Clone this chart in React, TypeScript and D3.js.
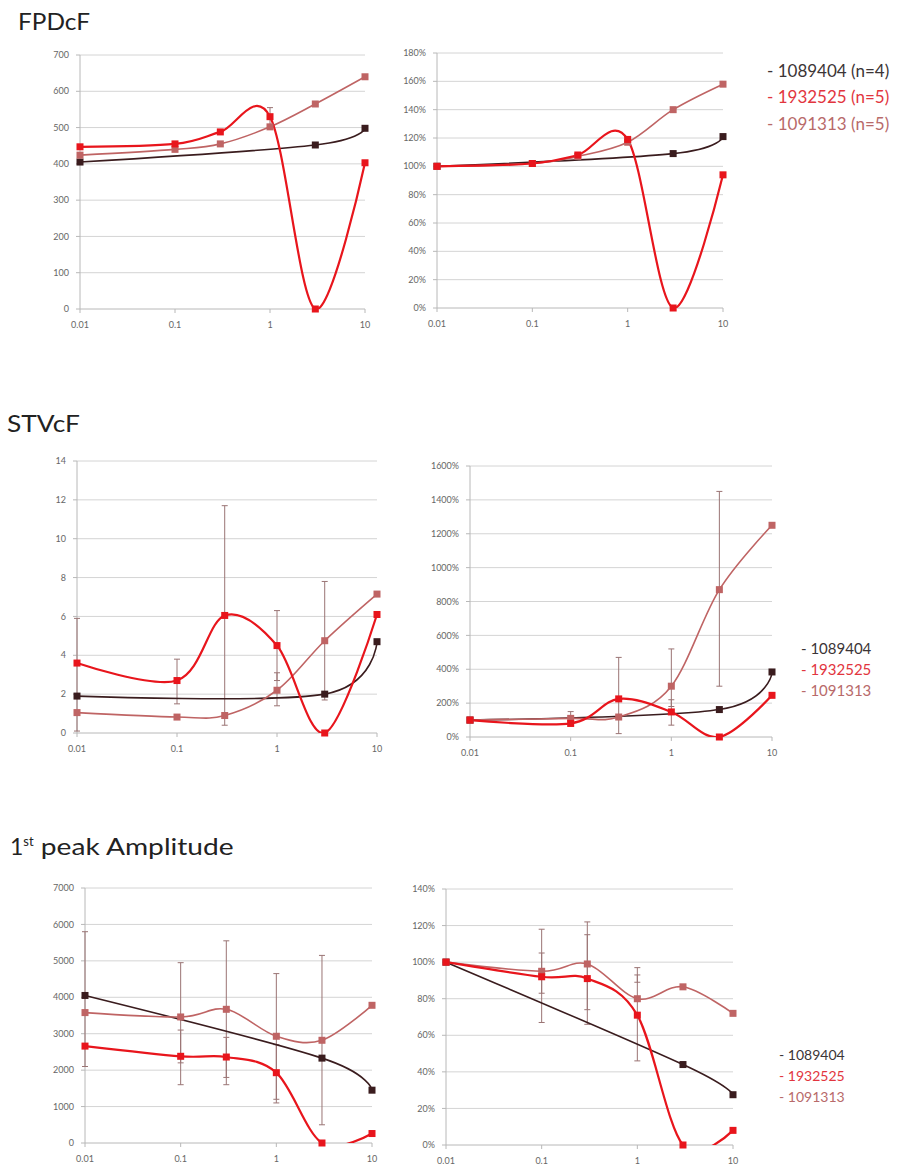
import React from 'react';
import * as d3 from 'd3';

// ---------- data ----------
const DOSES = [0.01, 0.1, 0.3, 1, 3, 10];
const DARK_DOSES = [0.01, 3, 10];
const X_TICKS = [0.01, 0.1, 1, 10];
const X_TICK_LABELS = ['0.01', '0.1', '1', '10'];

const SERIES_NAMES = ['1089404', '1932525', '1091313'];
const N_LABELS = ['(n=4)', '(n=5)', '(n=5)'];
const TITLES = ['FPDcF', 'STVcF', 'peak Amplitude'];

// FPDcF
const FPD_ABS_DARK = [405, 452, 498];
const FPD_ABS_RED = [447, 455, 488, 530, 0, 403];
const FPD_ABS_PINK = [424, 440, 455, 502, 565, 640];
const FPD_ABS_ERR: [number, number, number][] = [[1, 505, 555]];
const FPD_PCT_DARK = [100, 109, 121];
const FPD_PCT_RED = [100, 102, 108, 119, 0, 94];
const FPD_PCT_PINK = [100, 102, 107, 117, 140, 158];
const FPD_PCT_ERR: [number, number, number][] = [];

// STVcF
const STV_ABS_DARK = [1.9, 2.0, 4.7];
const STV_ABS_RED = [3.6, 2.7, 6.05, 4.5, 0, 6.1];
const STV_ABS_PINK = [1.05, 0.82, 0.9, 2.2, 4.75, 7.15];
const STV_ABS_ERR: [number, number, number][] = [
  [0.01, 0.1, 5.9], [0.1, 1.5, 3.8], [0.3, 0.4, 11.7], [1, 1.4, 6.3], [1, 2.7, 3.1], [3, 1.7, 7.8],
];
const STV_PCT_DARK = [100, 162, 384];
const STV_PCT_RED = [100, 80, 225, 148, 0, 246];
const STV_PCT_PINK = [100, 110, 118, 300, 870, 1250];
const STV_PCT_ERR: [number, number, number][] = [
  [0.1, 80, 150], [0.3, 20, 470], [1, 70, 520], [1, 180, 220], [3, 300, 1450],
];

// 1st peak Amplitude
const AMP_ABS_DARK = [4050, 2330, 1450];
const AMP_ABS_RED = [2660, 2380, 2360, 1930, 0, 260];
const AMP_ABS_PINK = [3580, 3460, 3670, 2930, 2820, 3780];
const AMP_ABS_ERR: [number, number, number][] = [
  [0.01, 2100, 5800], [0.1, 1600, 4950], [0.1, 2200, 3100], [0.3, 1600, 5550], [0.3, 1800, 2900],
  [1, 1100, 4650], [1, 1200, 2700], [3, 500, 5150],
];
const AMP_PCT_DARK = [100, 44, 27.5];
const AMP_PCT_RED = [100, 92, 91, 71, 0, 8];
const AMP_PCT_PINK = [100, 95, 99, 80, 86.5, 72];
const AMP_PCT_ERR: [number, number, number][] = [
  [0.1, 67, 118], [0.1, 83, 105], [0.3, 66, 122], [0.3, 74, 115], [1, 46, 97], [1, 89, 93],
];

// ---------- style ----------
const C_DARK = '#3a1c1e';
const C_RED = '#e8151c';
const C_PINK = '#bf6464';
const C_ERR = '#9a7474';
const C_GRID = '#d4d4d4';
const C_AXIS = '#b8b8b8';
const C_TICK = '#666';
const FONT = 'Lato, "Open Sans", sans-serif';

type Err = [number, number, number];
interface PanelCfg {
  id: string;
  x0: number; x1: number; yTop: number; yBot: number;
  yMax: number; yStep: number; pct: boolean;
  dark: number[]; red: number[]; pink: number[]; err: Err[];
}

const PANELS: PanelCfg[] = [
  { id: 'A', x0: 80, x1: 365, yTop: 55, yBot: 309, yMax: 700, yStep: 100, pct: false, dark: FPD_ABS_DARK, red: FPD_ABS_RED, pink: FPD_ABS_PINK, err: FPD_ABS_ERR },
  { id: 'B', x0: 437, x1: 723, yTop: 53, yBot: 308, yMax: 180, yStep: 20, pct: true, dark: FPD_PCT_DARK, red: FPD_PCT_RED, pink: FPD_PCT_PINK, err: FPD_PCT_ERR },
  { id: 'C', x0: 77, x1: 377, yTop: 461, yBot: 733, yMax: 14, yStep: 2, pct: false, dark: STV_ABS_DARK, red: STV_ABS_RED, pink: STV_ABS_PINK, err: STV_ABS_ERR },
  { id: 'D', x0: 470, x1: 772, yTop: 466, yBot: 737, yMax: 1600, yStep: 200, pct: true, dark: STV_PCT_DARK, red: STV_PCT_RED, pink: STV_PCT_PINK, err: STV_PCT_ERR },
  { id: 'E', x0: 85, x1: 372, yTop: 888, yBot: 1143, yMax: 7000, yStep: 1000, pct: false, dark: AMP_ABS_DARK, red: AMP_ABS_RED, pink: AMP_ABS_PINK, err: AMP_ABS_ERR },
  { id: 'F', x0: 446, x1: 733, yTop: 889, yBot: 1145, yMax: 140, yStep: 20, pct: true, dark: AMP_PCT_DARK, red: AMP_PCT_RED, pink: AMP_PCT_PINK, err: AMP_PCT_ERR },
];

function Panel({ cfg }: { cfg: PanelCfg }) {
  const x = d3.scaleLog().domain([0.01, 10]).range([cfg.x0, cfg.x1]);
  const y = d3.scaleLinear().domain([0, cfg.yMax]).range([cfg.yBot, cfg.yTop]);
  const yTicks = d3.range(0, cfg.yMax + cfg.yStep / 2, cfg.yStep);
  const line = d3.line<[number, number]>()
    .x(d => x(d[0]))
    .y(d => y(d[1]))
    .curve(d3.curveCardinal.tension(0));
  const series = [
    { pts: DARK_DOSES.map((d, i) => [d, cfg.dark[i]] as [number, number]), color: C_DARK, w: 1.6 },
    { pts: DOSES.map((d, i) => [d, cfg.pink[i]] as [number, number]), color: C_PINK, w: 1.6 },
    { pts: DOSES.map((d, i) => [d, cfg.red[i]] as [number, number]), color: C_RED, w: 2.2 },
  ];
  const clipId = 'clip' + cfg.id;
  return (
    <g>
      <defs>
        <clipPath id={clipId}>
          <rect x={cfg.x0 - 10} y={cfg.yTop - 60} width={cfg.x1 - cfg.x0 + 20} height={cfg.yBot - cfg.yTop + 60} />
        </clipPath>
      </defs>
      {yTicks.map(t => (
        <g key={'g' + t}>
          {t > 0 && <line x1={cfg.x0} x2={cfg.x1} y1={y(t)} y2={y(t)} stroke={C_GRID} strokeWidth={1} />}
          <line x1={cfg.x0 - 4} x2={cfg.x0} y1={y(t)} y2={y(t)} stroke={C_AXIS} strokeWidth={1} />
          <text x={cfg.x0 - 11} y={y(t)} dy="0.35em" textAnchor="end" fontSize={9} fill={C_TICK} fontFamily={FONT}>
            {cfg.pct ? `${t}%` : `${t}`}
          </text>
        </g>
      ))}
      <line x1={cfg.x0} x2={cfg.x0} y1={cfg.yTop} y2={cfg.yBot} stroke={C_AXIS} strokeWidth={1} />
      <line x1={cfg.x0} x2={cfg.x1} y1={cfg.yBot} y2={cfg.yBot} stroke={C_AXIS} strokeWidth={1} />
      {X_TICKS.map((t, i) => (
        <g key={'x' + t}>
          <line x1={x(t)} x2={x(t)} y1={cfg.yBot} y2={cfg.yBot + 4} stroke={C_AXIS} strokeWidth={1} />
          <text x={x(t)} y={cfg.yBot + 19} textAnchor="middle" fontSize={9} fill={C_TICK} fontFamily={FONT}>
            {X_TICK_LABELS[i]}
          </text>
        </g>
      ))}
      {cfg.err.map((e, i) => (
        <g key={'e' + i} stroke={C_ERR} strokeWidth={1}>
          <line x1={x(e[0])} x2={x(e[0])} y1={y(e[1])} y2={y(e[2])} />
          <line x1={x(e[0]) - 3} x2={x(e[0]) + 3} y1={y(e[1])} y2={y(e[1])} />
          <line x1={x(e[0]) - 3} x2={x(e[0]) + 3} y1={y(e[2])} y2={y(e[2])} />
        </g>
      ))}
      <g clipPath={`url(#${clipId})`}>
        {series.map((s, i) => (
          <path key={'l' + i} d={line(s.pts) || ''} fill="none" stroke={s.color} strokeWidth={s.w} />
        ))}
      </g>
      {series.map((s, i) => (
        <g key={'m' + i}>
          {s.pts.map((p, j) => (
            <rect key={j} x={x(p[0]) - 3.5} y={y(p[1]) - 3.5} width={7} height={7} fill={s.color} />
          ))}
        </g>
      ))}
    </g>
  );
}

function Legend({ x, ys, size, withN }: { x: number; ys: number[]; size: number; withN: boolean }) {
  const colors = ['#3c3536', '#e2353e', '#b86a6a'];
  return (
    <g fontFamily={FONT} fontSize={size}>
      {SERIES_NAMES.map((n, i) => (
        <text key={n} x={x} y={ys[i]} fill={colors[i]}>
          {`- ${n}${withN ? ' ' + N_LABELS[i] : ''}`}
        </text>
      ))}
    </g>
  );
}

export default function App() {
  return (
    <svg width={901} height={1168} style={{ position: 'absolute', left: 0, top: 0, background: '#fff' }}
      fontFamily={FONT}>
      <rect width={901} height={1168} fill="#fff" />
      <text x={18} y={30} fontSize={23} fill="#222" textLength={72} lengthAdjust="spacingAndGlyphs">{TITLES[0]}</text>
      <text x={7} y={432} fontSize={23} fill="#222" textLength={73} lengthAdjust="spacingAndGlyphs">{TITLES[1]}</text>
      <text x={10} y={855} fontSize={23} fill="#222">
        1<tspan dy={-9} fontSize={13}>st</tspan>
        <tspan dy={9} textLength={200} lengthAdjust="spacingAndGlyphs"> {TITLES[2]}</tspan>
      </text>
      {PANELS.map(p => <Panel key={p.id} cfg={p} />)}
      <Legend x={767} ys={[77, 103, 130]} size={17} withN={true} />
      <Legend x={801} ys={[654, 675, 696]} size={15} withN={false} />
      <Legend x={779} ys={[1060, 1081, 1102]} size={14} withN={false} />
    </svg>
  );
}
